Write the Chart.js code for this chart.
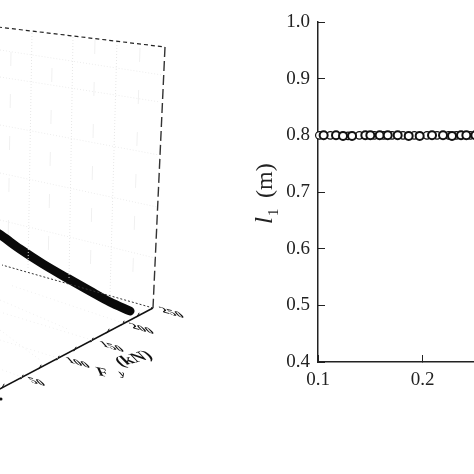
<!DOCTYPE html>
<html><head><meta charset="utf-8">
<script src="https://cdn.jsdelivr.net/npm/chart.js@4"></script>
<style>
html,body{margin:0;padding:0;background:#fff;width:474px;height:474px;overflow:hidden}
#wrap{position:relative;width:474px;height:474px;overflow:hidden}
canvas{position:absolute;top:0}
#c3d{left:0}
#c2d{left:237px}
</style></head><body>
<div id="wrap"><canvas id="c3d" width="237" height="474"></canvas><canvas id="c2d" width="300" height="474"></canvas></div>
<script>
// --- Right panel: l1 against x ---
const xTickValues = [0.1, 0.2, 0.3];
const yTickValues = [0.4, 0.5, 0.6, 0.7, 0.8, 0.9, 1.0];
const backSamplesX = [0.1054,0.1172,0.1239,0.1325,0.1452,0.15,0.1589,0.1666,0.1761,0.1866,0.1971,0.2089,0.2194,0.228,0.2366,0.2417,0.2503];
const backSamplesY = [0.8,0.8,0.799,0.799,0.8,0.8,0.8,0.8,0.8,0.799,0.799,0.8,0.8,0.799,0.8,0.8,0.8];
const frontSamplesX = [0.1013,0.1118,0.1287,0.1395,0.1538,0.1627,0.1707,0.1812,0.192,0.2041,0.2137,0.2248,0.2322,0.2455];
const frontSamplesY = [0.8,0.8,0.799,0.8,0.8,0.8,0.8,0.8,0.8,0.8,0.8,0.8,0.8,0.8];

// --- Left panel: 3-D view, read as positions in the projected frame ---
const curveX = [-4,2,20,43,67,90,110,130];
const curveY = [232,236,249,264,278,291,302,311];
const topEdgeX = [-2,165]; const topEdgeY = [27,47];
const sideEdgeX = [165,153]; const sideEdgeY = [47,308];
const backFloorX = [153,2]; const backFloorY = [308,265];
const depthAxisX = [153,-2]; const depthAxisY = [308,390];
const depthTicksX = [3,22,40,58,75,92,108,123,138];
const depthTicksY = [386,377,367,358,349,340,331,323,315];
const wallRows = [[0,50,162,75],[0,77,160,102],[0,125,159,155],[0,173,157,207],[0,220,155,258]];
const wallCols = [[32,33,28,270],[73,37,69,280],[117,42,110,295]];
const wallMinor = [[11,52,8,250],[52,68,48,270],[95,40,90,290],[140,48,132,300]];
const floorLines = [[22,377,0,369],[58,358,0,340],[92,340,0,312],[123,323,10,285],
                    [0,300,70,330],[0,330,40,360]];
const strayDotX = [1]; const strayDotY = [399];
const depthLabels = ["50","100","150","200","250"];

const serif = '"Liberation Serif","Times New Roman",serif';
const segs = (list, color, dash) => list.map(s => ({
  type:'line', data:[{x:s[0],y:s[1]},{x:s[2],y:s[3]}],
  borderColor:color, borderWidth:1, borderDash:dash, pointRadius:0, showLine:true
}));
const zip = (xs, ys) => xs.map((x,i) => ({x, y:ys[i]}));

const skewLabels = {
  id:'skewLabels',
  afterDatasetsDraw(chart){
    const {ctx, scales:{x,y}} = chart;
    const put = (t, px, py, font, m) => {
      ctx.save();
      ctx.translate(x.getPixelForValue(px), y.getPixelForValue(py));
      ctx.transform(m[0],m[1],m[2],m[3],0,0);
      ctx.font = font; ctx.fillStyle = '#111';
      ctx.textAlign='center'; ctx.textBaseline='middle';
      ctx.fillText(t,0,0);
      ctx.restore();
    };
    const flat = [1,0.27,0.55,0.62];
    const pos = [[37,382],[78,363],[112,347],[142,329],[172,313]];
    depthLabels.forEach((t,i)=>put(t,pos[i][0],pos[i][1],'bold 15px '+serif,flat));
    put('F',103,373,'italic bold 18px '+serif,[1,0.2,0.5,0.75]);
    put('y',122,374,'italic bold 13px '+serif,[1,0.2,0.5,0.75]);
    put('(kN)',134,359,'bold 17px '+serif,[1,-0.27,0.72,0.72]);
  }
};

new Chart(document.getElementById('c3d'),{
  type:'scatter',
  data:{datasets:[
    ...segs(wallRows,'#ececec',[1,2]),
    ...segs(wallCols,'#e6e6e6',[1,2]),
    ...segs(wallMinor,'#f0f0f0',[14,28]),
    ...segs(floorLines,'#efefef',[1,3]),
    {type:'line',data:zip(topEdgeX,topEdgeY),borderColor:'#222',borderWidth:1.2,borderDash:[4,3],pointRadius:0},
    {type:'line',data:zip(sideEdgeX,sideEdgeY),borderColor:'#333',borderWidth:1.4,borderDash:[10,4],pointRadius:0},
    {type:'line',data:zip(backFloorX,backFloorY),borderColor:'#333',borderWidth:1,borderDash:[2,2],pointRadius:0},
    {type:'line',data:zip(depthAxisX,depthAxisY),borderColor:'#111',borderWidth:1.5,pointRadius:0},
    {type:'scatter',data:zip(depthTicksX,depthTicksY),pointStyle:'line',rotation:-62,pointRadius:2.5,borderColor:'#111',borderWidth:1},
    {type:'line',data:zip(curveX,curveY),borderColor:'#0a0a0a',borderWidth:9,borderCapStyle:'round',borderJoinStyle:'round',pointRadius:0,cubicInterpolationMode:'monotone'},
    {type:'scatter',data:zip(strayDotX,strayDotY),pointRadius:1.5,backgroundColor:'#111',borderWidth:0}
  ]},
  options:{
    responsive:false,animation:false,
    layout:{padding:0,autoPadding:false},
    plugins:{legend:{display:false},tooltip:{enabled:false}},
    scales:{
      x:{type:'linear',display:false,min:0,max:237},
      y:{type:'linear',display:false,min:0,max:474,reverse:true}
    }
  },
  plugins:[skewLabels]
});

const axisTitle = {
  id:'axisTitle',
  afterDraw(chart){
    const {ctx} = chart;
    ctx.save();
    ctx.translate(35,224);
    ctx.rotate(-Math.PI/2);
    ctx.fillStyle='#222';
    ctx.textAlign='left';ctx.textBaseline='alphabetic';
    ctx.font='italic 25px '+serif; ctx.fillText('l',0,0);
    ctx.font='15px '+serif; ctx.fillText('1',8,6);
    ctx.font='24px '+serif; ctx.fillText('(m)',26,0);
    ctx.restore();
  }
};
const noPad = s => { s.paddingLeft = s.paddingRight = s.paddingTop = s.paddingBottom = 0; };

new Chart(document.getElementById('c2d'),{
  type:'scatter',
  data:{datasets:[
    {data:zip(backSamplesX,backSamplesY),pointRadius:4,borderWidth:2,borderColor:'#111',backgroundColor:'#fff',clip:false},
    {data:zip(frontSamplesX,frontSamplesY),pointRadius:3.8,borderWidth:1.2,borderColor:'#111',backgroundColor:'#fff',clip:false}
  ]},
  options:{
    responsive:false,animation:false,
    layout:{padding:{top:22,right:9.6,left:0,bottom:0},autoPadding:false},
    plugins:{legend:{display:false},tooltip:{enabled:false}},
    scales:{
      x:{type:'linear',min:0.1,max:0.3,
        afterBuildTicks(s){s.ticks=xTickValues.map(v=>({value:v}));},
        afterFit(s){s.height=112;noPad(s);},
        grid:{drawOnChartArea:false,drawTicks:true,tickLength:-7,color:'#222',tickWidth:1},
        border:{display:true,color:'#222',width:1.5},
        ticks:{padding:14,autoSkip:false,maxRotation:0,color:'#222',font:{family:serif,size:19},callback:v=>v.toFixed(1)}
      },
      y:{type:'linear',min:0.4,max:1.0,
        afterBuildTicks(s){s.ticks=yTickValues.map(v=>({value:v}));},
        afterFit(s){s.width=81;noPad(s);},
        grid:{drawOnChartArea:false,drawTicks:true,tickLength:-7,color:'#222',tickWidth:1},
        border:{display:true,color:'#222',width:1.5},
        ticks:{padding:15,autoSkip:false,color:'#222',font:{family:serif,size:19},callback:v=>v.toFixed(1)}
      }
    }
  },
  plugins:[axisTitle]
});
</script>
</body></html>
